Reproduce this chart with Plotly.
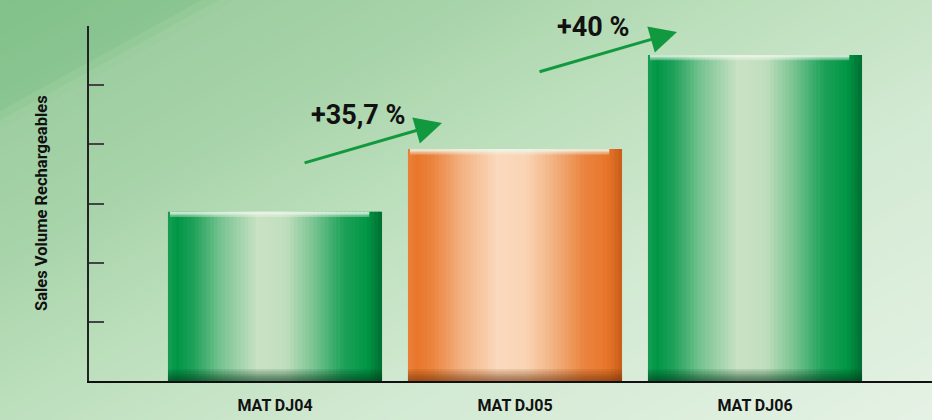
import plotly.graph_objects as go
import numpy as np

# ---- data ----
categories = ["MAT DJ04", "MAT DJ05", "MAT DJ06"]
sales_volume = [2.86, 3.92, 5.51]
growth_labels = ["+35,7 %", "+40 %"]
y_title = "Sales Volume Rechargeables"

# ---- layout constants ----
W_PX, H_PX = 932, 420
ML, MR, MT, MB = 89, 0, 26, 39
PW, PH = W_PX - ML - MR, H_PX - MT - MB
XR = [-0.775, 2.7375]
YR = [0, 6]
BAR_W = 0.892
FONT = "Roboto, Liberation Sans, sans-serif"


def px2paper(px, py):
    return (px - ML) / PW, 1 - (py - MT) / PH


def data2paper(x, y):
    return (x - XR[0]) / (XR[1] - XR[0]), (y - YR[0]) / (YR[1] - YR[0])


def lerp_color(stops, t):
    ts = [s[0] for s in stops]
    cs = np.array([s[1] for s in stops], dtype=float)
    c = [np.interp(t, ts, cs[:, i]) for i in range(3)]
    return "rgb(%d,%d,%d)" % tuple(int(round(v)) for v in c)


fig = go.Figure()

# ---- background gradient bands ----
bg_stops = [
    (0, (130, 193, 138)),
    (105, (137, 197, 144)),
    (128, (157, 206, 160)),
    (260, (168, 212, 170)),
    (420, (189, 223, 189)),
    (620, (210, 233, 210)),
    (940, (229, 242, 229)),
]
A = 0.55
smax = H_PX + A * W_PX
NS = 100
shapes = []
for k in range(NS):
    s0 = smax * k / NS - 1
    s1 = smax * (k + 1) / NS + 1
    pts = [(0, s0), (W_PX, s0 - A * W_PX), (W_PX, s1 - A * W_PX), (0, s1)]
    pp = [px2paper(x, y) for x, y in pts]
    path = "M " + " L ".join("%.5f,%.5f" % p for p in pp) + " Z"
    shapes.append(dict(type="path", xref="paper", yref="paper", path=path,
                       fillcolor=lerp_color(bg_stops, (s0 + s1) / 2),
                       line=dict(width=0), layer="below"))

# ---- cylinder bars built from vertical strips ----
bar_colors = {
    "green": dict(base=(0, 150, 70), light=(202, 226, 196), dark=(0, 95, 40)),
    "orange": dict(base=(232, 118, 42), light=(250, 217, 188), dark=(185, 82, 18)),
}
bar_kind = ["green", "orange", "green"]
prof_u = [0, 0.04, 0.12, 0.25, 0.42, 0.55, 0.68, 0.82, 0.93, 0.975, 1.0]
prof_m = [0.12, 0.0, 0.15, 0.6, 1.0, 0.95, 0.6, 0.15, 0.0, -0.45, -0.7]


def strip_color(kind, u):
    c = bar_colors[kind]
    m = np.interp(u, prof_u, prof_m)
    b = np.array(c["base"], float)
    if m >= 0:
        col = b + (np.array(c["light"], float) - b) * m
    else:
        col = b + (np.array(c["dark"], float) - b) * (-m)
    return "rgb(%d,%d,%d)" % tuple(int(round(v)) for v in col)


xs = list(range(len(categories)))
N = 56
sw = BAR_W / N
for k in range(N):
    u = (k + 0.5) / N
    w = sw * 1.6 if k < N - 1 else sw
    fig.add_trace(go.Bar(
        x=xs, y=sales_volume, width=[w] * len(xs), offset=-BAR_W / 2 + k * sw,
        marker=dict(color=[strip_color(kd, u) for kd in bar_kind], line=dict(width=0)),
        hoverinfo="skip", showlegend=False))

# top lip highlight (soft)
for lip, alpha in [(0.09, 0.35), (0.06, 0.45), (0.035, 0.55)]:
    fig.add_trace(go.Bar(
        x=xs, y=[lip] * len(xs), base=[v - lip for v in sales_volume],
        width=BAR_W * 0.93, offset=-BAR_W / 2 + BAR_W * 0.01,
        marker=dict(color="rgba(238,247,234,%.2f)" % alpha, line=dict(width=0)),
        hoverinfo="skip", showlegend=False))

# bottom shadow (blurred)
shadow_col = {"green": "rgba(0,55,25,%.2f)", "orange": "rgba(110,45,5,%.2f)"}
for h in [0.03, 0.06, 0.09, 0.12, 0.16, 0.2]:
    fig.add_trace(go.Bar(
        x=xs, y=[h] * len(xs), base=[0] * len(xs), width=BAR_W, offset=-BAR_W / 2,
        marker=dict(color=[shadow_col[kd] % 0.13 for kd in bar_kind], line=dict(width=0)),
        hoverinfo="skip", showlegend=False))

# ---- growth arrows and labels ----
arrow_pos = [((0.117, 3.68), (0.696, 4.36)), ((1.096, 5.22), (1.675, 5.90))]
label_pos = [(0.346, 4.50), (1.325, 5.98)]
annotations = []
for (tail, tip), (lx, ly), txt in zip(arrow_pos, label_pos, growth_labels):
    annotations.append(dict(x=tip[0], y=tip[1], ax=tail[0], ay=tail[1],
                            xref="x", yref="y", axref="x", ayref="y", text="",
                            showarrow=True, arrowhead=2, arrowsize=1.8, arrowwidth=3,
                            arrowcolor="#12993f", standoff=0))
    px_, py_ = data2paper(lx, ly)
    annotations.append(dict(x=px_, y=py_, xref="paper", yref="paper", text=txt,
                            showarrow=False,
                            font=dict(family=FONT, size=27, color="#111", weight="bold"),
                            xanchor="center", yanchor="middle"))

tx, ty = px2paper(41, 203)
annotations.append(dict(x=tx, y=ty, xref="paper", yref="paper", text=y_title,
                        textangle=-90, showarrow=False,
                        font=dict(family=FONT, size=16.5, color="#111", weight="bold"),
                        xanchor="center", yanchor="middle"))

fig.update_layout(
    width=W_PX, height=H_PX,
    margin=dict(l=ML, r=MR, t=MT, b=MB, pad=0),
    barmode="overlay",
    paper_bgcolor="rgb(180,218,180)",
    plot_bgcolor="rgba(0,0,0,0)",
    shapes=shapes,
    annotations=annotations,
    showlegend=False,
    xaxis=dict(range=XR, tickvals=xs, ticktext=categories, showgrid=False, zeroline=False,
               showline=True, linecolor="#111", linewidth=2, ticks="",
               ticklabelstandoff=9,
               tickfont=dict(family=FONT, size=16, color="#111", weight="bold"),
               fixedrange=True),
    yaxis=dict(range=YR, dtick=1, tick0=0, showgrid=False, zeroline=False,
               showline=True, linecolor="#222", linewidth=2, ticks="inside",
               ticklen=15, tickwidth=1.5, tickcolor="#444", showticklabels=False,
               fixedrange=True),
)

fig.write_html("out.html", config={"displayModeBar": False},
               post_script="document.body.style.margin='0';document.body.style.overflow='hidden';")
